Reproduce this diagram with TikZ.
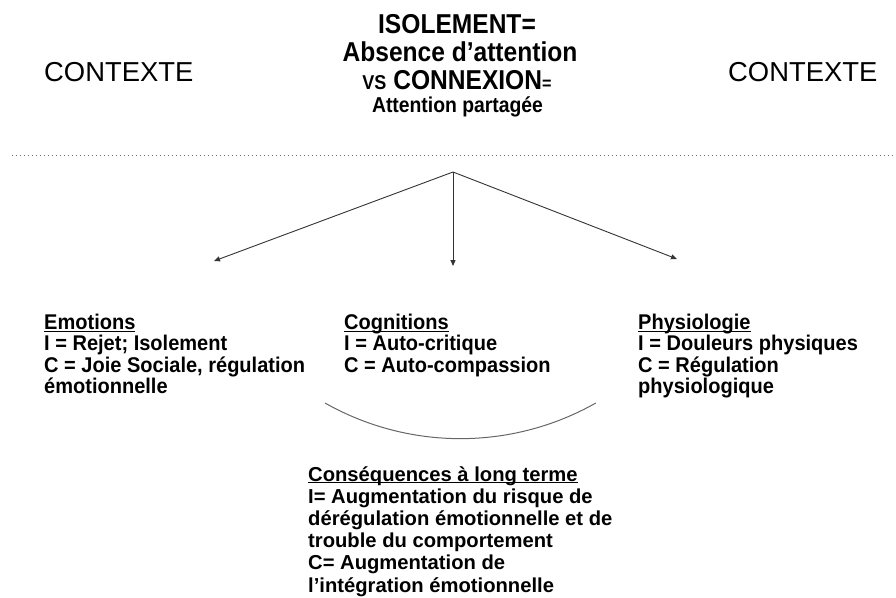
\documentclass[tikz,border=0pt]{standalone}
\usepackage{fontspec}
\setmainfont{Liberation Sans}
\newfontfamily\ttlfont{Liberation Sans}[FakeStretch=0.9]
\newfontfamily\blkfont{Liberation Sans}[FakeStretch=0.94]
\usetikzlibrary{arrows.meta}
\begin{document}
\begin{tikzpicture}[x=1pt,y=-1pt,
  ctx/.style={font=\fontsize{27.4}{28}\selectfont, anchor=base west, inner sep=0},
  ttl/.style={font=\ttlfont\bfseries\fontsize{27.3}{28}\selectfont, anchor=base, inner sep=0},
  blk/.style={font=\blkfont\bfseries\fontsize{21.3}{21.3}\selectfont, align=left, anchor=north west, inner sep=0},
  conn/.style={draw=black!80, line width=0.9pt, -{Triangle[length=6pt,width=5pt]}},
  sep/.style={draw=black!55, line width=1pt, dash pattern=on 1pt off 3pt},
  arcline/.style={draw=black!60, line width=1pt},
]
\useasboundingbox (0,0) rectangle (896,597);

% context labels
\node[ctx] (ctxL) at (44,81) {CONTEXTE};
\node[ctx] (ctxR) at (728,81) {CONTEXTE};

% title
\node[ttl] (t1) at (457,33) {ISOLEMENT=};
\node[ttl] (t2) at (460,61) {Absence d’attention};
\node[ttl] (t3) at (457,89) {{\fontsize{20}{20}\selectfont VS} CONNEXION{\fontsize{18}{20}\selectfont =}};
\node[ttl, font=\ttlfont\bfseries\fontsize{21.5}{22}\selectfont] (t4) at (457.5,112) {Attention partagée};

% dotted separator
\coordinate (sepL) at (12,155);
\coordinate (sepR) at (896,155);
\draw[sep] (sepL) -- (sepR);

% arrows
\coordinate (apex) at (453,172);
\coordinate (tipL) at (214,261);
\coordinate (tipM) at (453,266);
\coordinate (tipR) at (677,259);
\draw[conn] (apex) -- (tipL);
\draw[conn] (apex) -- (tipM);
\draw[conn] (apex) -- (tipR);

% blocks
\node[blk] (emo) at (44,314) {\underbar{Emotions}\\I = Rejet; Isolement\\C = Joie Sociale, régulation\\émotionnelle};
\node[blk] (cog) at (344,314) {\underbar{Cognitions}\\I = Auto-critique\\C = Auto-compassion};
\node[blk] (phy) at (638,314) {\underbar{Physiologie}\\I = Douleurs physiques\\C = Régulation\\physiologique};

% arc
\coordinate (arcL) at (325,403);
\draw[arcline] (arcL) arc[start angle=119.5, end angle=60.5, radius=275];

% consequences
\node[blk, font=\bfseries\fontsize{20.2}{22.2}\selectfont] (cons) at (308,466) {\underbar{Conséquences à long terme}\\I= Augmentation du risque de\\dérégulation émotionnelle et de\\trouble du comportement\\C= Augmentation de\\l’intégration émotionnelle};
\end{tikzpicture}
\end{document}
